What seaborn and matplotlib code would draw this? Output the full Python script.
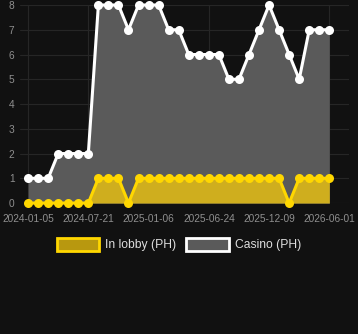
import matplotlib
matplotlib.use("Agg")
import matplotlib.pyplot as plt
import seaborn as sns
import pandas as pd
from matplotlib.patches import Patch

casino = [1, 1, 1, 2, 2, 2, 2, 8, 8, 8, 7, 8, 8, 8, 7, 7,
          6, 6, 6, 6, 5, 5, 6, 7, 8, 7, 6, 5, 7, 7, 7]
lobby = [0, 0, 0, 0, 0, 0, 0, 1, 1, 1, 0, 1, 1, 1, 1, 1,
         1, 1, 1, 1, 1, 1, 1, 1, 1, 1, 0, 1, 1, 1, 1]
tick_labels = ["2024-01-05", "2024-07-21", "2025-01-06",
               "2025-06-24", "2025-12-09", "2026-06-01"]
tick_step = 6

sns.set_theme(style="dark")
plt.rcParams['font.family'] = ['Liberation Sans', 'DejaVu Sans']

bg = "#111111"
df = pd.DataFrame({"idx": range(len(casino)), "casino": casino, "lobby": lobby})

fig = plt.figure(figsize=(3.58, 3.34), dpi=100, facecolor=bg)
ax = fig.add_axes([0.056, 0.392, 0.92, 0.593])
ax.set_facecolor(bg)

ax.fill_between(df["idx"], df["casino"], color="#5a5a5a", zorder=1, linewidth=0)
ax.fill_between(df["idx"], df["lobby"], color="#cfae1e", zorder=2, linewidth=0)

sns.lineplot(data=df, x="idx", y="casino", ax=ax, color="white", linewidth=2.2,
             marker="o", markersize=6.5, markeredgewidth=0, zorder=4, clip_on=False)
sns.lineplot(data=df, x="idx", y="lobby", ax=ax, color="#ffd700", linewidth=2.2,
             marker="o", markersize=6.5, markeredgewidth=0, zorder=5, clip_on=False)

ax.set_xlim(-0.8, 32.0)
ax.set_ylim(0, 8)
ax.set_xticks(list(range(0, len(casino), tick_step)))
ax.set_xticklabels(tick_labels)
ax.set_yticks(range(0, 9))
ax.set_xlabel("")
ax.set_ylabel("")
ax.grid(True, color="#262626", linewidth=0.8)
ax.set_axisbelow(True)
for s in ax.spines.values():
    s.set_visible(False)
ax.tick_params(axis="both", colors="#8f8f8f", labelsize=7.3, length=0)
ax.tick_params(axis="x", pad=8)
ax.tick_params(axis="y", pad=4)

handles = [Patch(facecolor="#b8980f", edgecolor="#ffd700", linewidth=2, label="In lobby (PH)"),
           Patch(facecolor="#5a5a5a", edgecolor="white", linewidth=2, label="Casino (PH)")]
leg = fig.legend(handles=handles, loc="center", bbox_to_anchor=(0.5, 0.268), ncol=2,
                 frameon=False, fontsize=8.7, handlelength=3.5, handleheight=1.3,
                 columnspacing=0.8, handletextpad=0.5)
for t in leg.get_texts():
    t.set_color("#dddddd")

fig.savefig("out.png", dpi=100, facecolor=bg)
